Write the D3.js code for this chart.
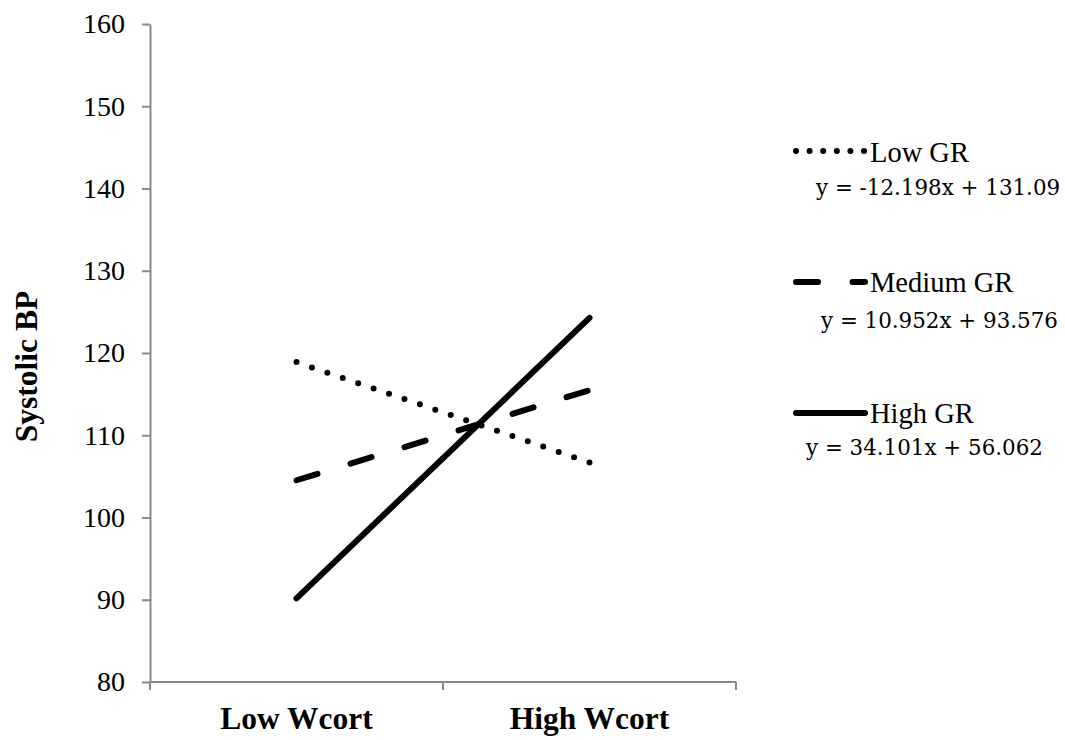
<!DOCTYPE html>
<html>
<head>
<meta charset="utf-8">
<script src="https://cdn.jsdelivr.net/npm/d3@7"></script>
<style>
  html, body { margin: 0; padding: 0; background: #fff; }
  svg { display: block; }
</style>
</head>
<body>
<svg id="chart" width="1065" height="740"></svg>
<script>
// Categories along the x axis
const categories = ["Low Wcort", "High Wcort"];

// Series names and their values at Low / High Wcort
const seriesNames = ["Low GR", "Medium GR", "High GR"];
const lowGR = [118.892, 106.694];
const mediumGR = [104.528, 115.48];
const highGR = [90.163, 124.264];

// Trend-line equations shown under each legend entry
const equations = [
  "y = -12.198x + 131.09",
  "y = 10.952x + 93.576",
  "y = 34.101x + 56.062"
];

// Y axis ticks
const yTicks = [80, 90, 100, 110, 120, 130, 140, 150, 160];

const seriesValues = [lowGR, mediumGR, highGR];
const lineStyles = [
  { dash: "0,16.3", legendDash: "0,13.6" },
  { dash: "22,34.5", legendDash: "22,34.5" },
  { dash: null, legendDash: null }
];

const svg = d3.select("#chart");
const plotLeft = 150, plotRight = 736, plotTop = 24, plotBottom = 682;

const x = d3.scalePoint().domain(categories).range([plotLeft, plotRight]).padding(0.5);
const y = d3.scaleLinear().domain([80, 160]).range([plotBottom, plotTop]);

const axisColor = "#898989";
const serif = "'Liberation Serif', 'Times New Roman', serif";

// Y axis
const yAxis = svg.append("g")
  .attr("transform", `translate(${plotLeft},0)`)
  .call(d3.axisLeft(y).tickValues(yTicks).tickSize(8).tickSizeOuter(0).tickPadding(17));
yAxis.select(".domain").attr("stroke", axisColor).attr("stroke-width", 2);
yAxis.selectAll(".tick line").attr("stroke", axisColor).attr("stroke-width", 2);
yAxis.selectAll(".tick text")
  .attr("font-family", serif)
  .attr("font-size", 28)
  .attr("fill", "#000");

// X axis: a plain baseline with ticks at the band edges
const xg = svg.append("g");
xg.append("line")
  .attr("x1", plotLeft).attr("x2", plotRight)
  .attr("y1", plotBottom).attr("y2", plotBottom)
  .attr("stroke", axisColor).attr("stroke-width", 2);
const step = x.step();
const edges = [plotLeft, plotLeft + step, plotLeft + 2 * step];
xg.selectAll("line.tk").data(edges).join("line")
  .attr("class", "tk")
  .attr("x1", d => d).attr("x2", d => d)
  .attr("y1", plotBottom).attr("y2", plotBottom + 8)
  .attr("stroke", axisColor).attr("stroke-width", 2);
xg.selectAll("text").data(categories).join("text")
  .attr("x", d => x(d))
  .attr("y", 729)
  .attr("text-anchor", "middle")
  .attr("font-family", serif)
  .attr("font-weight", "bold")
  .attr("font-size", 31.5)
  .attr("fill", "#000")
  .text(d => d);

// Y axis title
svg.append("text")
  .attr("transform", "translate(37,366.5) rotate(-90)")
  .attr("text-anchor", "middle")
  .attr("font-family", serif)
  .attr("font-weight", "bold")
  .attr("font-size", 31.5)
  .attr("fill", "#000")
  .text("Systolic BP");

// Series lines
const line = d3.line().x((d, i) => x(categories[i])).y(d => y(d));
seriesValues.forEach((vals, i) => {
  svg.append("path")
    .datum(vals)
    .attr("d", line)
    .attr("fill", "none")
    .attr("stroke", "#000")
    .attr("stroke-width", 6)
    .attr("stroke-linecap", "round")
    .attr("stroke-dasharray", lineStyles[i].dash);
});

// Legend
const legendLineY = [151, 282, 413];
const legendTextY = [162, 292, 423];
const eqY = [195, 328, 455];
const eqX = [816, 821, 806];
const lg = svg.append("g");
seriesNames.forEach((name, i) => {
  lg.append("line")
    .attr("x1", 796).attr("x2", 865)
    .attr("y1", legendLineY[i]).attr("y2", legendLineY[i])
    .attr("stroke", "#000")
    .attr("stroke-width", 6)
    .attr("stroke-linecap", "round")
    .attr("stroke-dasharray", lineStyles[i].legendDash);
  lg.append("text")
    .attr("x", 870).attr("y", legendTextY[i])
    .attr("font-family", serif)
    .attr("font-size", 28.5)
    .attr("fill", "#000")
    .text(name);
  lg.append("text")
    .attr("x", eqX[i]).attr("y", eqY[i])
    .attr("font-family", "'DejaVu Serif', serif")
    .attr("font-size", 21.4)
    .attr("fill", "#000")
    .text(equations[i]);
});
</script>
</body>
</html>
